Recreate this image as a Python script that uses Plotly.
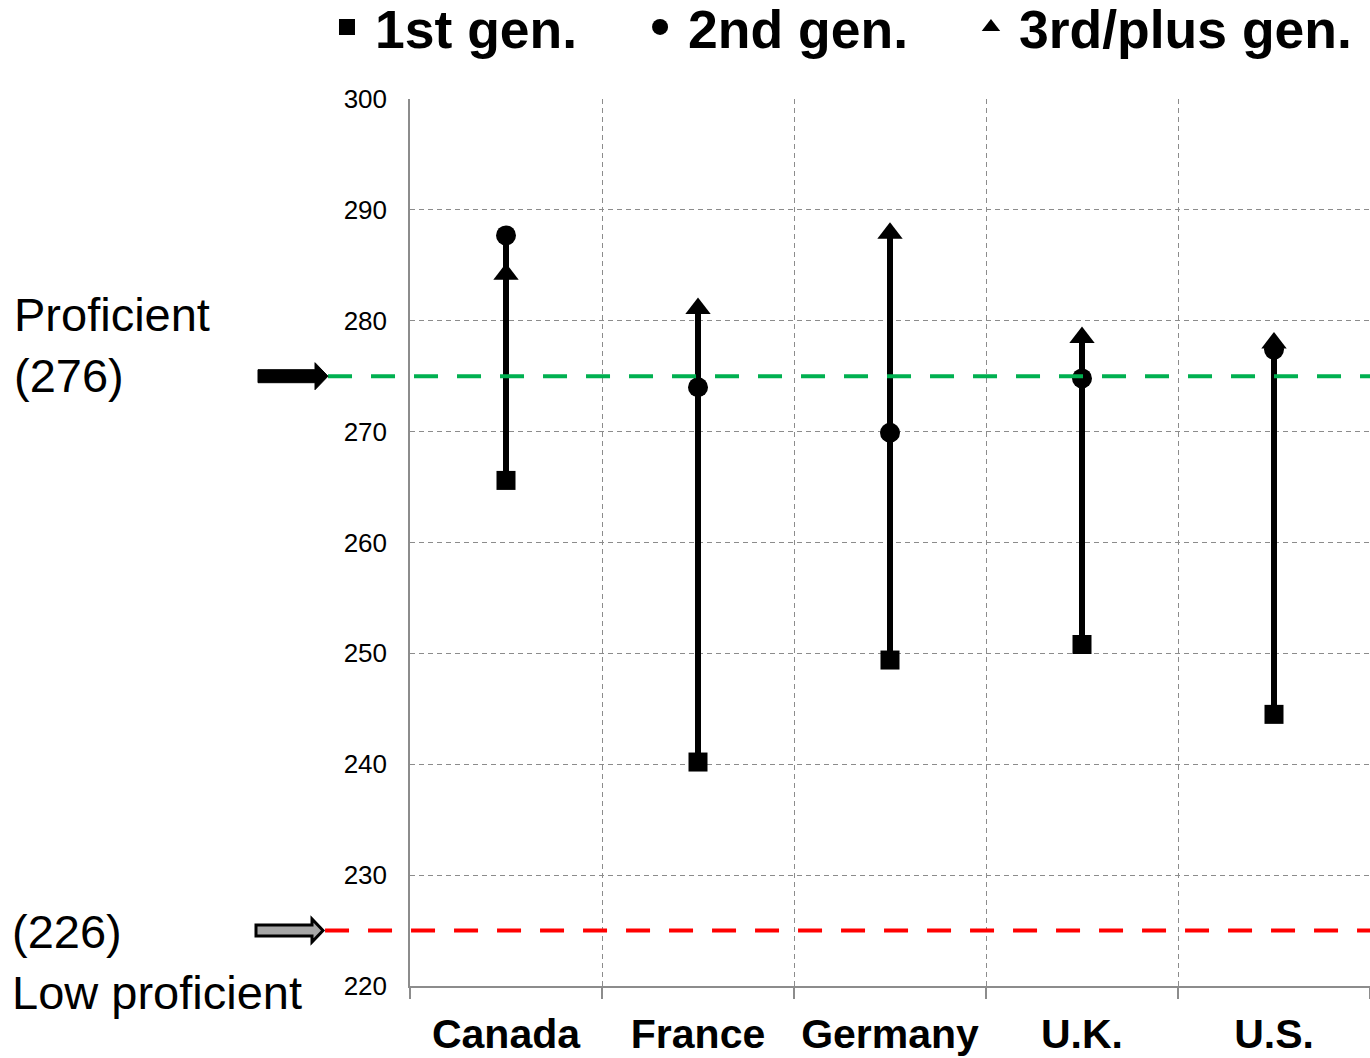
import plotly.graph_objects as go

countries = ["Canada", "France", "Germany", "U.K.", "U.S."]
gen1 = [265.6, 240.2, 249.4, 250.8, 244.5]
gen2 = [287.7, 274.0, 269.9, 274.8, 277.4]
gen3 = [284.2, 281.1, 287.9, 278.5, 278.0]
series_names = ["1st gen.", "2nd gen.", "3rd/plus gen."]
proficient_level = 275
low_level = 225
proficient_label = "Proficient<br>(276)"
low_label = "(226)<br>Low proficient"
y_ticks = [220, 230, 240, 250, 260, 270, 280, 290, 300]

FONT = "Arial, Liberation Sans, sans-serif"
GRID = "#8c8c8c"

fig = go.Figure()

# vertical range lines
lx, ly = [], []
for c, a, b, d in zip(countries, gen1, gen2, gen3):
    lx += [c, c, None]
    ly += [min(a, b, d), max(a, b, d), None]
fig.add_trace(go.Scatter(x=lx, y=ly, mode="lines", line=dict(color="black", width=6),
                         showlegend=False, hoverinfo="skip"))

fig.add_trace(go.Scatter(x=countries, y=gen1, mode="markers", name=series_names[0],
                         marker=dict(symbol="square", size=19, color="black"), legend="legend"))
fig.add_trace(go.Scatter(x=countries, y=gen2, mode="markers", name=series_names[1],
                         marker=dict(symbol="circle", size=20, color="black"), legend="legend2"))
fig.add_trace(go.Scatter(x=countries, y=gen3, mode="markers", name=series_names[2],
                         marker=dict(symbol="triangle-up", size=22, color="black"), legend="legend3"))

# reference dashed lines
fig.add_shape(type="line", xref="paper", yref="y", x0=-0.0854, x1=1,
              y0=proficient_level, y1=proficient_level,
              line=dict(color="#00B050", width=4, dash="24px,19px"))
fig.add_shape(type="line", xref="paper", yref="y", x0=-0.0885, x1=1,
              y0=low_level, y1=low_level,
              line=dict(color="#FF0000", width=4, dash="24px,19px"))

# arrows (decorative)
fig.add_shape(type="path", xref="paper", yref="y", xsizemode="pixel", ysizemode="pixel",
              xanchor=0, yanchor=proficient_level,
              path="M-152,-6.5 L-95,-6.5 L-95,-13.5 L-82,0 L-95,13.5 L-95,6.5 L-152,6.5 Z",
              fillcolor="black", line=dict(color="black", width=1))
fig.add_shape(type="path", xref="paper", yref="y", xsizemode="pixel", ysizemode="pixel",
              xanchor=0, yanchor=low_level,
              path="M-154,-5.5 L-98,-5.5 L-98,-11.5 L-87,0 L-98,11.5 L-98,5.5 L-154,5.5 Z",
              fillcolor="#A6A6A6", line=dict(color="black", width=3))

fig.add_annotation(text=proficient_label, xref="paper", yref="y", x=-0.4146, y=277.8,
                   xanchor="left", yanchor="middle", align="left", showarrow=False,
                   font=dict(family=FONT, size=47, color="black"))
fig.add_annotation(text=low_label, xref="paper", yref="y", x=-0.4167, y=222.2,
                   xanchor="left", yanchor="middle", align="left", showarrow=False,
                   font=dict(family=FONT, size=47, color="black"))

leg_common = dict(orientation="h", yanchor="middle", y=1.081, xanchor="left",
                  bgcolor="rgba(0,0,0,0)", borderwidth=0, itemwidth=46,
                  font=dict(family=FONT, size=53.5, color="black", weight="bold"))

fig.update_layout(
    width=1370, height=1058,
    margin=dict(l=410, r=0, t=99, b=72, autoexpand=False),
    paper_bgcolor="white", plot_bgcolor="white",
    legend=dict(x=-0.0948, **leg_common),
    legend2=dict(x=0.2313, **leg_common),
    legend3=dict(x=0.5760, **leg_common),
    xaxis=dict(type="category", categoryorder="array", categoryarray=countries,
               range=[-0.5, 4.5], tickson="boundaries", ticks="outside", ticklen=11,
               tickcolor=GRID, tickwidth=1.5, showline=True, linecolor=GRID, linewidth=2,
               showgrid=True, gridcolor=GRID, gridwidth=1, griddash="5px,4px",
               tickangle=0,
               tickfont=dict(family=FONT, size=41, color="black", weight="bold"),
               ticklabelstandoff=11, zeroline=False, automargin=False),
    yaxis=dict(range=[220, 300], tickvals=y_ticks, ticks="", showline=True,
               linecolor=GRID, linewidth=1.5, showgrid=True, gridcolor=GRID, gridwidth=1,
               griddash="5px,4px", zeroline=False, ticklabelstandoff=16, automargin=False,
               tickfont=dict(family=FONT, size=26, color="black")),
    showlegend=True,
)

fig.write_html("out.html", config={"displayModeBar": False},
               post_script="document.body.style.margin='0';document.body.style.overflow='hidden';")
